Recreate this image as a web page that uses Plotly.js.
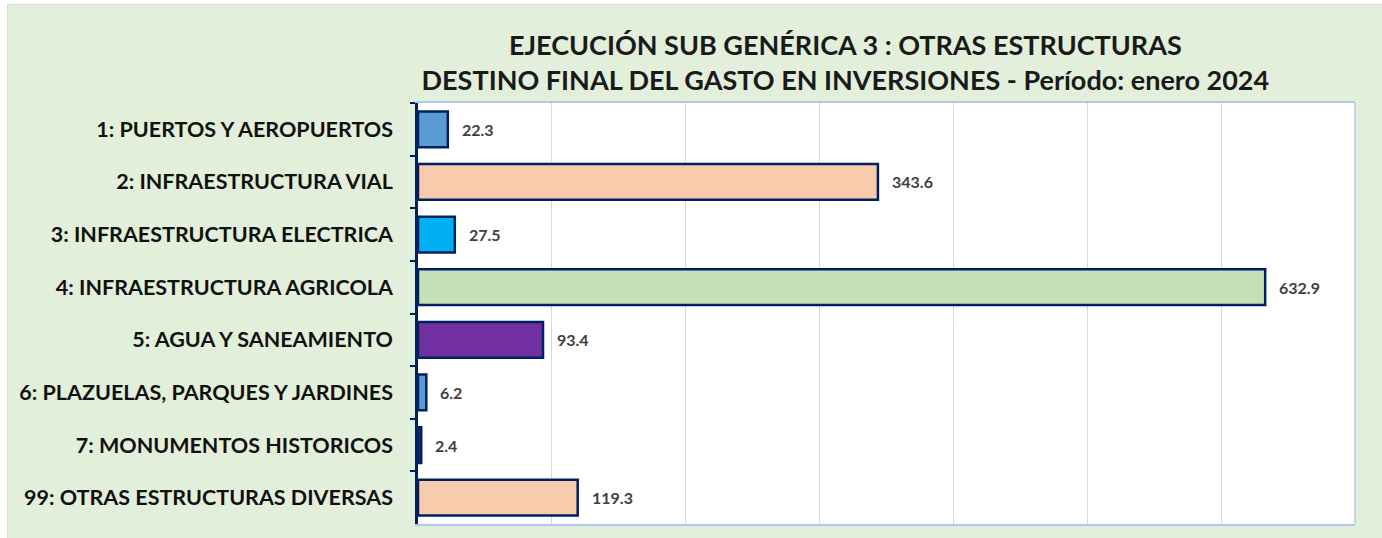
<!DOCTYPE html>
<html>
<head>
<meta charset="utf-8">
<script src="https://cdn.plot.ly/plotly-3.0.1.min.js"></script>
<style>
html,body{margin:0;padding:0;background:#fff;}
#wrap{position:absolute;left:7px;top:4px;width:1375px;height:534px;border-left:1px solid #d9d9d9;border-top:1px solid #d9d9d9;}
#chart{width:1375px;height:534px;}
</style>
</head>
<body>
<div id="wrap"><div id="chart"></div></div>
<script>
const categories = [
  "1: PUERTOS Y AEROPUERTOS",
  "2: INFRAESTRUCTURA VIAL",
  "3: INFRAESTRUCTURA ELECTRICA",
  "4: INFRAESTRUCTURA AGRICOLA",
  "5: AGUA Y SANEAMIENTO",
  "6: PLAZUELAS, PARQUES Y JARDINES",
  "7: MONUMENTOS HISTORICOS",
  "99: OTRAS ESTRUCTURAS DIVERSAS"
];
const values = [22.3, 343.6, 27.5, 632.9, 93.4, 6.2, 2.4, 119.3];
const barColors = ["#5B9BD5", "#F8CBAD", "#00B0F0", "#C5E0B4", "#7030A0", "#5B9BD5", "#1F3864", "#F8CBAD"];
const titleLines = ["EJECUCIÓN SUB GENÉRICA 3 : OTRAS ESTRUCTURAS", "DESTINO FINAL DEL GASTO EN INVERSIONES - Período: enero 2024"];

const FONT = "Lato, 'Open Sans', sans-serif";

const trace = {
  type: "bar",
  orientation: "h",
  x: values,
  y: categories,
  marker: {color: barColors, line: {color: "#002060", width: 2.5}},
  width: 0.68,
  hoverinfo: "x+y"
};

const annotations = values.map((v, i) => ({
  x: v, y: categories[i], xref: "x", yref: "y",
  text: v.toFixed(1), showarrow: false, xanchor: "left", xshift: 12,
  font: {family: FONT, size: 16, color: "#404040", weight: "bold"}
}));

const layout = {
  width: 1375, height: 534,
  margin: {l: 410, r: 28, t: 98, b: 15},
  paper_bgcolor: "#E2EFDA",
  plot_bgcolor: "#FFFFFF",
  bargap: 0.32,
  showlegend: false,
  title: {
    text: "<b>" + titleLines[0] + "</b><br><b>" + titleLines[1] + "</b>",
    x: 0.609, xanchor: "center", xref: "container",
    y: 0.907, yanchor: "top", yref: "container",
    font: {family: FONT, size: 27, color: "#1a1a1a"}
  },
  xaxis: {
    range: [0, 700], dtick: 100, showticklabels: false,
    showgrid: true, gridcolor: "#D9D9D9", gridwidth: 1,
    showline: true, linecolor: "#B4C7E7", linewidth: 1.5, mirror: true,
    zeroline: false, fixedrange: true
  },
  yaxis: {
    type: "category", autorange: "reversed",
    showline: true, linecolor: "#002060", linewidth: 2.5,
    ticks: "outside", tickson: "boundaries", ticklen: 5, tickcolor: "#002060", tickwidth: 2,
    ticklabelstandoff: 18,
    tickfont: {family: FONT, size: 21.5, color: "#111111", weight: "bold"},
    showgrid: false, zeroline: false, fixedrange: true
  },
  shapes: [{type: "line", xref: "paper", yref: "paper", x0: 1, x1: 1, y0: 0, y1: 1,
            line: {color: "#B4C7E7", width: 1.5}}],
  annotations: annotations
};

Plotly.newPlot("chart", [trace], layout, {displayModeBar: false});
</script>
</body>
</html>
